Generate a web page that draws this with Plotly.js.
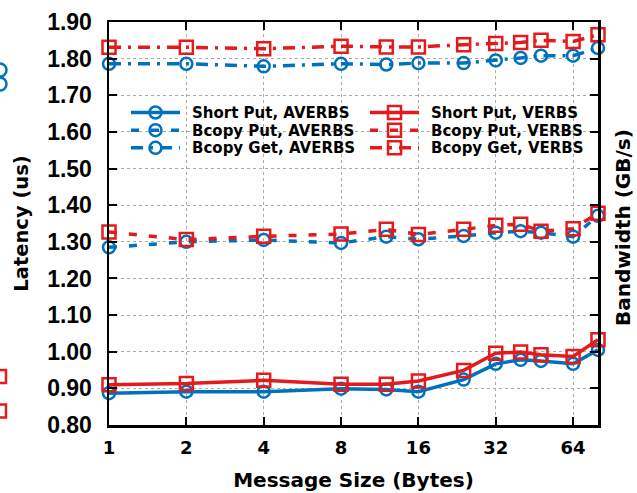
<!DOCTYPE html>
<html>
<head>
<meta charset="utf-8">
<script src="https://cdn.plot.ly/plotly-3.0.1.min.js"></script>
<style>html,body{margin:0;padding:0;background:#fff;}#chart{width:637px;height:493px;}</style>
</head>
<body>
<div id="chart"></div>
<script>
const msgSizes = [1, 2, 4, 8, 12, 16, 24, 32, 40, 48, 64, 80];
const shortPutAverbs = [0.887, 0.891, 0.891, 0.899, 0.897, 0.891, 0.924, 0.967, 0.978, 0.975, 0.967, 1.005];
const shortPutVerbs  = [0.910, 0.913, 0.922, 0.911, 0.911, 0.920, 0.949, 0.996, 0.999, 0.992, 0.987, 1.033];
const bcopyPutAverbs = [1.285, 1.300, 1.305, 1.297, 1.314, 1.307, 1.316, 1.325, 1.329, 1.325, 1.314, 1.371];
const bcopyPutVerbs  = [1.327, 1.306, 1.315, 1.321, 1.334, 1.320, 1.334, 1.345, 1.348, 1.329, 1.336, 1.378];
const bcopyGetAverbs = [1.786, 1.786, 1.779, 1.786, 1.784, 1.788, 1.788, 1.795, 1.802, 1.808, 1.808, 1.829];
const bcopyGetVerbs  = [1.831, 1.831, 1.827, 1.834, 1.832, 1.832, 1.838, 1.841, 1.844, 1.850, 1.847, 1.865];
const xTicks = [1, 2, 4, 8, 16, 32, 64];
const yTicks = [0.80, 0.90, 1.00, 1.10, 1.20, 1.30, 1.40, 1.50, 1.60, 1.70, 1.80, 1.90];

const BLUE = '#0072bd', RED = '#e41a1c';
const DASH = '8px,12px';
const DASHDOT = '12px,7px,3px,7px';
const series = [
  {name: 'Short Put, AVERBS', y: shortPutAverbs, color: BLUE, dash: 'solid', sym: 'circle-open'},
  {name: 'Short Put, VERBS',  y: shortPutVerbs,  color: RED,  dash: 'solid', sym: 'square-open'},
  {name: 'Bcopy Put, AVERBS', y: bcopyPutAverbs, color: BLUE, dash: DASH,    sym: 'circle-open'},
  {name: 'Bcopy Put, VERBS',  y: bcopyPutVerbs,  color: RED,  dash: DASH,    sym: 'square-open'},
  {name: 'Bcopy Get, AVERBS', y: bcopyGetAverbs, color: BLUE, dash: DASHDOT, sym: 'circle-open'},
  {name: 'Bcopy Get, VERBS',  y: bcopyGetVerbs,  color: RED,  dash: DASHDOT, sym: 'square-open'}
];
const data = series.map(function(s){
  return {
    x: msgSizes, y: s.y, name: s.name, type: 'scatter', mode: 'lines+markers', cliponaxis: false,
    line: {color: s.color, width: 3.5, dash: s.dash},
    marker: {symbol: s.sym, size: s.sym === 'circle-open' ? 12 : 13, color: s.color, line: {color: s.color, width: 2.5}}
  };
});

// pixel -> paper helpers (plot area 109..598 x 22..425)
const W = 489, H = 403;
function px(p){ return (p - 109) / W; }
function py(p){ return (425 - p) / H; }
const shapes = [];
const annotations = [];

// custom legend: 2 columns (AVERBS | VERBS), 3 rows
const legCols = [131, 370];
const legRows = [112.5, 130.2, 147.8];
series.forEach(function(s, i){
  const col = i % 2, row = Math.floor(i / 2);
  const x0 = legCols[col], yc = legRows[row], mx = x0 + 24.5;
  shapes.push({type:'line', xref:'paper', yref:'paper', x0:px(x0), x1:px(x0+49), y0:py(yc), y1:py(yc),
               line:{color:s.color, width:3.5, dash:s.dash}});
  if (s.sym === 'circle-open') {
    shapes.push({type:'circle', xref:'paper', yref:'paper', x0:px(mx-6), x1:px(mx+6), y0:py(yc+6), y1:py(yc-6),
                 line:{color:s.color, width:2.5}});
  } else {
    shapes.push({type:'rect', xref:'paper', yref:'paper', x0:px(mx-6.5), x1:px(mx+6.5), y0:py(yc+6.5), y1:py(yc-6.5),
                 line:{color:s.color, width:2.5}});
  }
  annotations.push({text: s.name, xref:'paper', yref:'paper', x:px(x0+59), y:py(yc+0.5), xanchor:'left', yanchor:'middle',
    showarrow:false, font:{family:'DejaVu Sans', size:15, color:'#000', weight:'bold'}});
});

// clipped marks of neighbouring figure at left edge
[70, 84].forEach(function(c){
  shapes.push({type:'circle', xref:'paper', yref:'paper', x0:px(-6.5), x1:px(6.5), y0:py(c+6.5), y1:py(c-6.5), line:{color:BLUE, width:2.5}});
});
[376.5, 411].forEach(function(c){
  shapes.push({type:'rect', xref:'paper', yref:'paper', x0:px(-7), x1:px(6), y0:py(c+6.5), y1:py(c-6.5), line:{color:RED, width:2.5}});
});

annotations.push({
  text: 'Bandwidth (GB/s)', xref: 'paper', yref: 'paper', x: px(623), y: py(228),
  xanchor: 'center', yanchor: 'middle', textangle: -90, showarrow: false,
  font: {family: 'DejaVu Sans', size: 20, color: '#000', weight: 'bold'}
});

const layout = {
  width: 637, height: 493,
  margin: {l: 109, r: 39, t: 22, b: 68},
  paper_bgcolor: '#fff', plot_bgcolor: '#fff',
  showlegend: false,
  xaxis: {
    type: 'log', range: [0, Math.log10(80)],
    tickvals: xTicks, ticktext: xTicks.map(String),
    ticks: 'inside', ticklen: 8, tickwidth: 2, tickcolor: '#000', ticklabelstandoff: 5,
    showline: true, linecolor: '#000', linewidth: 2.5, mirror: 'ticks',
    showgrid: true, gridcolor: '#aaaaaa', griddash: 'dot', gridwidth: 1,
    tickfont: {family: 'DejaVu Sans', size: 18, color: '#000', weight: 'bold'},
    title: {text: 'Message Size (Bytes)', font: {family: 'DejaVu Sans', size: 20, color: '#000', weight: 'bold'}, standoff: 16},
    zeroline: false
  },
  yaxis: {
    range: [0.80, 1.90],
    tickvals: yTicks, tickformat: '.2f',
    ticks: 'inside', ticklen: 8, tickwidth: 2, tickcolor: '#000', ticklabelstandoff: 10,
    showline: true, linecolor: '#000', linewidth: 2.5, mirror: 'ticks',
    showgrid: true, gridcolor: '#aaaaaa', griddash: 'dot', gridwidth: 1,
    tickfont: {family: 'Liberation Sans', size: 23, color: '#000', weight: 'bold'},
    title: {text: 'Latency (us)', font: {family: 'DejaVu Sans', size: 19.5, color: '#000', weight: 'bold'}, standoff: 14},
    zeroline: false
  },
  annotations: annotations,
  shapes: shapes
};
Plotly.newPlot('chart', data, layout, {displayModeBar: false, staticPlot: true});
</script>
</body>
</html>
